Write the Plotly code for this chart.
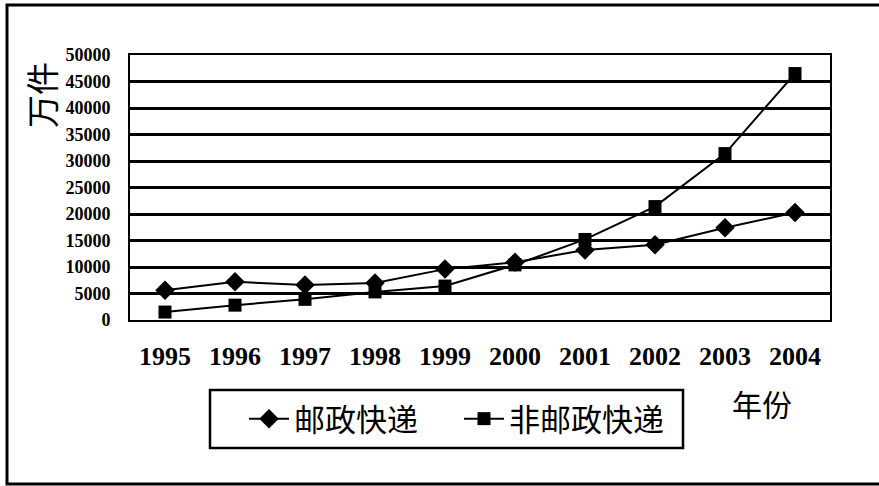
import plotly.graph_objects as go

years = ["1995", "1996", "1997", "1998", "1999", "2000", "2001", "2002", "2003", "2004"]
postal = [5600, 7200, 6600, 7000, 9600, 10900, 13200, 14200, 17400, 20300]
nonpostal = [1500, 2800, 3900, 5300, 6400, 10400, 15200, 21400, 31400, 46500]
y_ticks = [0, 5000, 10000, 15000, 20000, 25000, 30000, 35000, 40000, 45000, 50000]
y_tick_text = [str(v) for v in y_ticks]

W, H = 879, 486
L, R, T, B = 130, 49, 55, 166
pw, ph = W - L - R, H - T - B

def px(x):
    return (x - L) / pw

def py(y):
    return (H - B - y) / ph

cjk = "Noto Sans CJK SC"
serif = "Liberation Serif"

fig = go.Figure()
fig.add_trace(go.Scatter(
    x=years, y=postal, name="邮政快递", mode="lines+markers",
    line=dict(color="black", width=2),
    marker=dict(symbol="diamond", size=15, color="black"),
))
fig.add_trace(go.Scatter(
    x=years, y=nonpostal, name="非邮政快递", mode="lines+markers",
    line=dict(color="black", width=2),
    marker=dict(symbol="square", size=13, color="black"),
))

fig.update_layout(
    width=W, height=H,
    margin=dict(l=L, r=R, t=T, b=B),
    paper_bgcolor="white", plot_bgcolor="white",
    showlegend=True,
    legend=dict(
        orientation="h", x=px(244), y=py(419), xanchor="left", yanchor="middle",
        font=dict(family=cjk, size=31, color="black"),
        borderwidth=0, bgcolor="rgba(0,0,0,0)",
        itemwidth=40, entrywidth=160,
    ),
    xaxis=dict(
        type="category", range=[-0.5, 9.5],
        showline=True, linecolor="black", linewidth=2, mirror=True,
        showgrid=False, ticks="", ticklabelstandoff=12,
        tickfont=dict(family=serif, size=26, color="black", weight="bold"),
    ),
    yaxis=dict(
        range=[0, 50000], tickvals=y_ticks, ticktext=y_tick_text,
        showline=True, linecolor="black", linewidth=2, mirror=True,
        showgrid=True, gridcolor="black", gridwidth=2.5, zeroline=False,
        ticks="", ticklabelstandoff=14,
        tickfont=dict(family=serif, size=18, color="black", weight="bold"),
    ),
    annotations=[
        dict(text="万件", x=px(41), y=py(95), xref="paper", yref="paper",
             xanchor="center", yanchor="middle",
             showarrow=False, textangle=-90,
             font=dict(family=cjk, size=33, color="black")),
        dict(text="年份", x=px(762), y=py(403), xref="paper", yref="paper",
             xanchor="center", yanchor="middle",
             showarrow=False, font=dict(family=cjk, size=30, color="black")),
    ],
    shapes=[
        dict(type="rect", xref="paper", yref="paper",
             x0=px(7), x1=px(885), y0=py(484), y1=py(5),
             line=dict(color="black", width=3)),
        dict(type="rect", xref="paper", yref="paper",
             x0=px(210), x1=px(683), y0=py(448), y1=py(390),
             line=dict(color="black", width=2.5)),
    ],
)

fig.write_html("out.html")
